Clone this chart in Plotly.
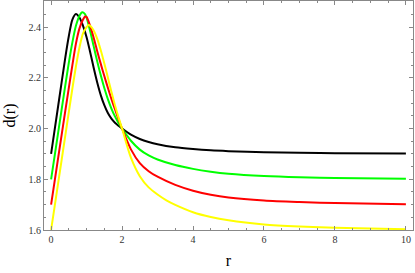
import plotly.graph_objects as go

# values
r_black = [0, 0.2, 0.4, 0.5, 0.6, 0.7, 0.8, 0.9, 1.0, 1.1, 1.2, 1.3, 1.4, 1.5, 1.6, 1.7, 1.8, 1.9, 2.0,
           2.25, 2.5, 2.75, 3, 3.5, 4, 4.5, 5, 6, 7, 8, 10]
d_black = [1.90, 2.09, 2.28, 2.365, 2.43, 2.452, 2.438, 2.405, 2.36, 2.302, 2.24, 2.182, 2.132, 2.092, 2.061, 2.039, 2.023, 2.011, 2.0,
           1.976, 1.959, 1.947, 1.938, 1.926, 1.919, 1.914, 1.911, 1.907, 1.9045, 1.903, 1.9012]

r_green = [0, 0.2, 0.4, 0.5, 0.6, 0.7, 0.8, 0.88, 0.95, 1.0, 1.1, 1.2, 1.3, 1.4, 1.5, 1.6, 1.7, 1.8, 1.9, 2.0,
           2.25, 2.5, 2.75, 3, 3.5, 4, 4.5, 5, 6, 7, 8, 10]
d_green = [1.80, 1.985, 2.17, 2.26, 2.34, 2.405, 2.445, 2.459, 2.452, 2.437, 2.385, 2.325, 2.265, 2.21, 2.16, 2.116, 2.079, 2.048, 2.022, 2.0,
           1.952, 1.917, 1.894, 1.878, 1.856, 1.841, 1.830, 1.822, 1.813, 1.808, 1.805, 1.802]

r_red = [0, 0.2, 0.4, 0.6, 0.7, 0.8, 0.9, 0.96, 1.0, 1.1, 1.2, 1.3, 1.4, 1.5, 1.6, 1.7, 1.8, 1.9, 2.0,
         2.25, 2.5, 2.75, 3, 3.5, 4, 4.5, 5, 6, 7, 8, 10]
d_red = [1.70, 1.885, 2.07, 2.25, 2.335, 2.395, 2.43, 2.442, 2.44, 2.405, 2.358, 2.305, 2.255, 2.207, 2.161, 2.117, 2.076, 2.037, 2.0,
         1.918, 1.864, 1.832, 1.810, 1.778, 1.755, 1.739, 1.728, 1.716, 1.710, 1.706, 1.702]

r_yellow = [0, 0.2, 0.4, 0.6, 0.7, 0.8, 0.9, 1.0, 1.06, 1.1, 1.2, 1.3, 1.4, 1.5, 1.6, 1.7, 1.8, 1.9, 2.0,
            2.25, 2.5, 2.75, 3, 3.25, 3.5, 4, 4.5, 5, 6, 7, 8, 10]
d_yellow = [1.60, 1.786, 1.972, 2.158, 2.245, 2.32, 2.375, 2.40, 2.408, 2.405, 2.387, 2.354, 2.309, 2.257, 2.201, 2.145, 2.092, 2.044, 2.0,
            1.885, 1.812, 1.768, 1.740, 1.717, 1.699, 1.670, 1.651, 1.638, 1.622, 1.614, 1.609, 1.603]

x_ticks = [0, 2, 4, 6, 8, 10]
y_ticks = [1.6, 1.8, 2.0, 2.2, 2.4]
y_tick_text = ["1.6", "1.8", "2.0", "2.2", "2.4"]

series = [
    (r_black, d_black, "black"),
    (r_green, d_green, "#00ff00"),
    (r_red, d_red, "#ff0000"),
    (r_yellow, d_yellow, "#ffff00"),
]

fig = go.Figure()
for rx, dy, col in series:
    fig.add_trace(go.Scatter(x=rx, y=dy, mode="lines",
                             line=dict(color=col, width=2, shape="spline", smoothing=0.8),
                             showlegend=False, hoverinfo="skip"))

frame = "#888888"
serif = "Liberation Serif, 'Times New Roman', Times, serif"
fig.update_layout(
    width=415, height=273,
    margin=dict(l=44, r=2, t=1, b=43),
    paper_bgcolor="white", plot_bgcolor="white",
    font=dict(family=serif, color="#333333", size=10),
    xaxis=dict(range=[-0.2, 10.2], tickvals=x_ticks, ticks="inside", ticklen=4,
               tickcolor=frame, showline=True, linecolor=frame, linewidth=1, mirror="ticks",
               showgrid=False, zeroline=False,
               minor=dict(ticks="inside", dtick=0.5, ticklen=2, tickcolor=frame, showgrid=False),
               title=dict(text="r", font=dict(family=serif, size=16, color="black"), standoff=10)),
    yaxis=dict(range=[1.6, 2.503], tickvals=y_ticks, ticktext=y_tick_text, ticks="inside", ticklen=4,
               tickcolor=frame, showline=True, linecolor=frame, linewidth=1, mirror="ticks",
               showgrid=False, zeroline=False,
               minor=dict(ticks="inside", dtick=0.05, ticklen=2, tickcolor=frame, showgrid=False),
               title=dict(text="d(r)", font=dict(family=serif, size=16, color="black"), standoff=8)),
)

fig.write_html("out.html", config={"displayModeBar": False},
               post_script="document.body.style.margin='0';document.body.style.padding='0';")
